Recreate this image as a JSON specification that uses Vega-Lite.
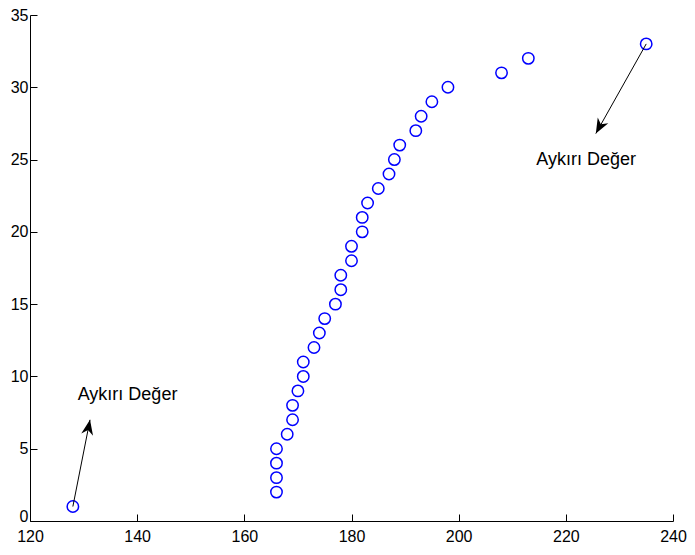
{
  "$schema": "https://vega.github.io/schema/vega-lite/v6.json",
  "autosize": "none",
  "width": 643,
  "height": 506,
  "padding": {"left": 30, "top": 15, "right": 22, "bottom": 34},
  "background": "white",
  "config": {"view": {"stroke": null}},
  "datasets": {
    "points": [
      {"x": 128, "y": 1}, {"x": 166, "y": 2}, {"x": 166, "y": 3}, {"x": 166, "y": 4},
      {"x": 166, "y": 5}, {"x": 168, "y": 6}, {"x": 169, "y": 7}, {"x": 169, "y": 8},
      {"x": 170, "y": 9}, {"x": 171, "y": 10}, {"x": 171, "y": 11}, {"x": 173, "y": 12},
      {"x": 174, "y": 13}, {"x": 175, "y": 14}, {"x": 177, "y": 15}, {"x": 178, "y": 16},
      {"x": 178, "y": 17}, {"x": 180, "y": 18}, {"x": 180, "y": 19}, {"x": 182, "y": 20},
      {"x": 182, "y": 21}, {"x": 183, "y": 22}, {"x": 185, "y": 23}, {"x": 187, "y": 24},
      {"x": 188, "y": 25}, {"x": 189, "y": 26}, {"x": 192, "y": 27}, {"x": 193, "y": 28},
      {"x": 195, "y": 29}, {"x": 198, "y": 30}, {"x": 208, "y": 31}, {"x": 213, "y": 32},
      {"x": 235, "y": 33}
    ],
    "arrows": [
      {"id": "low", "x": 128, "y": 1, "x2": 131.2, "y2": 7.0},
      {"id": "high", "x": 235, "y": 33, "x2": 225.6, "y2": 26.8}
    ],
    "labels": [
      {"x": 138.2, "y": 8.7, "text": "Aykırı Değer"},
      {"x": 223.8, "y": 25.0, "text": "Aykırı Değer"}
    ]
  },
  "layer": [
    {
      "data": {"name": "points"},
      "mark": {"type": "point", "shape": "circle", "filled": false, "color": "#0000ff", "size": 130, "strokeWidth": 1.5, "opacity": 1},
      "encoding": {
        "x": {
          "field": "x", "type": "quantitative",
          "scale": {"domain": [120, 240], "nice": false, "zero": false},
          "axis": {
            "title": null, "grid": false, "values": [120, 140, 160, 180, 200, 220, 240],
            "domainColor": "black", "tickColor": "black", "tickSize": -7, "labelPadding": 14,
            "labelFlush": false, "labelOverlap": false,
            "labelFont": "Liberation Sans", "labelFontSize": 16, "labelColor": "black"
          }
        },
        "y": {
          "field": "y", "type": "quantitative",
          "scale": {"domain": [0, 35], "nice": false},
          "axis": {
            "title": null, "grid": false, "values": [0, 5, 10, 15, 20, 25, 30, 35],
            "domainColor": "black", "tickColor": "black", "tickSize": -7, "labelPadding": 9,
            "labelFlush": false, "labelOverlap": false,
            "labelBaseline": {"condition": {"test": "datum.value === 0", "value": "alphabetic"}, "value": "middle"},
            "labelFont": "Liberation Sans", "labelFontSize": 16, "labelColor": "black"
          }
        }
      }
    },
    {
      "data": {"name": "arrows"},
      "mark": {"type": "rule", "color": "black", "strokeWidth": 1},
      "encoding": {
        "x": {"field": "x", "type": "quantitative"},
        "y": {"field": "y", "type": "quantitative"},
        "x2": {"field": "x2"},
        "y2": {"field": "y2"}
      }
    },
    {
      "data": {"name": "arrows"},
      "transform": [{"filter": "datum.id === 'low'"}],
      "mark": {"type": "point", "shape": "M0,0 L0.4,1 L0,0.7 L-0.4,1 Z", "filled": true, "color": "black", "size": 900, "angle": 11, "opacity": 1},
      "encoding": {
        "x": {"field": "x2", "type": "quantitative"},
        "y": {"field": "y2", "type": "quantitative"}
      }
    },
    {
      "data": {"name": "arrows"},
      "transform": [{"filter": "datum.id === 'high'"}],
      "mark": {"type": "point", "shape": "M0,0 L0.4,1 L0,0.7 L-0.4,1 Z", "filled": true, "color": "black", "size": 900, "angle": 208.6, "opacity": 1},
      "encoding": {
        "x": {"field": "x2", "type": "quantitative"},
        "y": {"field": "y2", "type": "quantitative"}
      }
    },
    {
      "data": {"name": "labels"},
      "mark": {"type": "text", "font": "Liberation Sans", "fontSize": 18, "color": "black", "align": "center", "baseline": "middle"},
      "encoding": {
        "x": {"field": "x", "type": "quantitative"},
        "y": {"field": "y", "type": "quantitative"},
        "text": {"field": "text"}
      }
    }
  ]
}
